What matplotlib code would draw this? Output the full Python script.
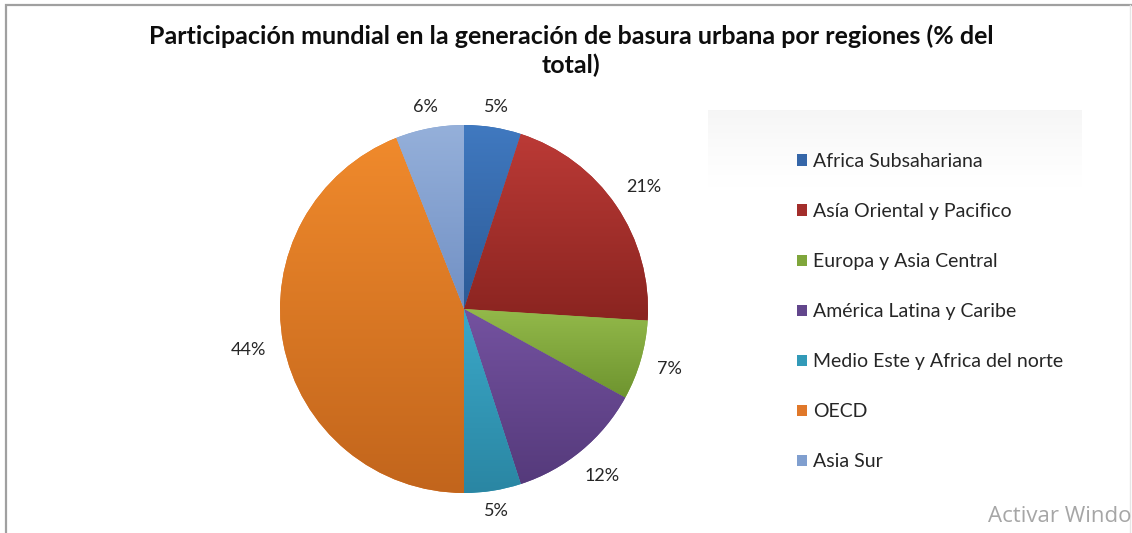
#!/usr/bin/env python3
"""Pie chart: share of urban waste generation by world region (Excel-style)."""

import matplotlib
matplotlib.use("Agg")
import matplotlib.pyplot as plt
import numpy as np
from matplotlib.colors import to_rgb
from matplotlib.patches import Patch

plt.rcParams["font.family"] = ["Lato", "DejaVu Sans"]

TITLE = "Participación mundial en la generación de basura urbana por regiones (% del\ntotal)"

regions = [
    "Africa Subsahariana",
    "Asía Oriental y Pacifico",
    "Europa y Asia Central",
    "América Latina y Caribe",
    "Medio Este y Africa del norte",
    "OECD",
    "Asia Sur",
]
shares = [5, 21, 7, 12, 5, 44, 6]

# (top colour, bottom colour) of each slice's vertical gradient
top_colors = ["#4079c0", "#bb3a36", "#93b94a", "#7452a0", "#3ba8c8", "#f08a2c", "#95b0da"]
bottom_colors = ["#2c5a96", "#8a2420", "#6e942f", "#553a7b", "#2a86a3", "#c2651c", "#7190c4"]
legend_colors = ["#3566a8", "#a32e2b", "#7fa63b", "#62468c", "#329ab8", "#e0782a", "#809fcf"]

# label distance from the centre, in radii (Excel "best fit" placement)
label_dist = [1.11, 1.18, 1.16, 1.18, 1.11, 1.19, 1.12]

W, H = 1132, 533


def gradient(c_top, c_bot, n=256):
    a = np.array(to_rgb(c_top))
    b = np.array(to_rgb(c_bot))
    t = np.linspace(0, 1, n)[:, None]
    return (a + (b - a) * t)[:, None, :]


fig = plt.figure(figsize=(W / 100, H / 100), dpi=100)
ax = fig.add_axes([0, 0, 1, 1])

cx, cy, r = 464, H - 309, 184
wedges, _, pct_texts = ax.pie(
    shares,
    colors=legend_colors,
    startangle=90,
    counterclock=False,
    center=(cx, cy),
    radius=r,
    autopct="%1.0f%%",
    pctdistance=1.15,
    wedgeprops={"linewidth": 0},
    textprops={"fontsize": 13, "color": "#262626"},
)

for w, t, d in zip(wedges, pct_texts, label_dist):
    mid = np.radians((w.theta1 + w.theta2) / 2)
    t.set_position((cx + d * r * np.cos(mid), cy + d * r * np.sin(mid)))

# vertical gradient inside every slice, like the Excel default style
for w, ct, cb in zip(wedges, top_colors, bottom_colors):
    angs = np.radians(np.linspace(w.theta1, w.theta2, 200))
    ys = np.concatenate([cy + r * np.sin(angs), [cy]])
    img = ax.imshow(
        gradient(ct, cb),
        extent=(cx - r, cx + r, ys.min(), ys.max()),
        aspect="auto",
        interpolation="bilinear",
        zorder=w.get_zorder() + 0.1,
    )
    img.set_clip_path(w)

ax.set_xlim(0, W)
ax.set_ylim(0, H)
ax.set_aspect("auto")
ax.axis("off")

# faint grey band behind the top of the legend
band = np.ones((80, 2, 4))
band[..., :3] = 0.9
band[..., 3] = np.linspace(0.45, 0.0, 80)[:, None] ** 1.3
ax.imshow(band, extent=(708, 1082, H - 190, H - 110), aspect="auto",
          interpolation="bilinear", zorder=0)

handles = [Patch(facecolor=c, edgecolor="none") for c in legend_colors]
fs = 14
ax.legend(
    handles,
    regions,
    loc="upper left",
    bbox_to_anchor=(797 / W, 1 - 153 / H),
    bbox_transform=fig.transFigure,
    frameon=False,
    fontsize=fs,
    handlelength=0.52,
    handleheight=0.52,
    handletextpad=0.32,
    labelspacing=1.7,
    borderpad=0,
    borderaxespad=0,
    labelcolor="#262626",
)

fig.text(571 / W, 1 - 24 / H, TITLE, ha="center", va="top", fontsize=18,
         fontweight="bold", color="#0d0d0d", linespacing=1.3)

# chart border (left and top) as in the screenshot
ax.plot([6, 6, W], [0, H - 5, H - 5], color="#a0a0a0", linewidth=1.6,
        solid_joinstyle="miter", clip_on=False)
ax.plot([W - 2, W - 2], [H - 5, 0], color="#e6e6e6", linewidth=1, clip_on=False)

fig.text(988 / W, 1 - 516 / H, "Activar Windo", ha="left", va="center",
         fontsize=16, color="#a6a6a6", family=["Open Sans", "DejaVu Sans"])

fig.savefig("out.png", dpi=100)
